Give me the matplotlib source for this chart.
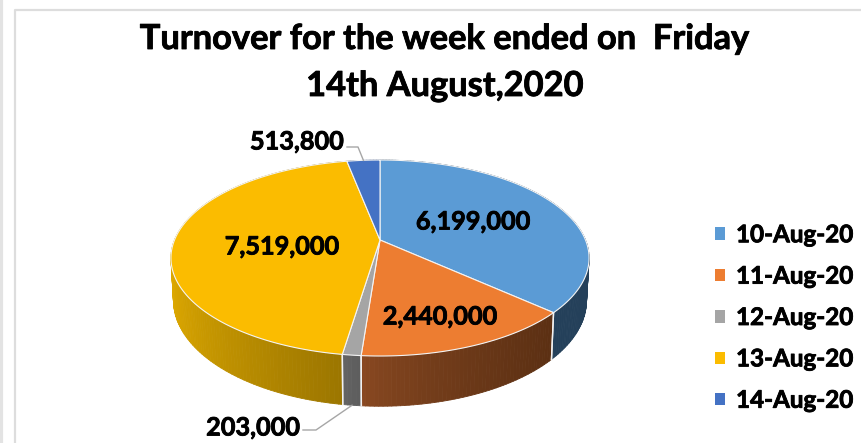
import numpy as np
import matplotlib
matplotlib.use("Agg")
import matplotlib.pyplot as plt
import matplotlib.patheffects as pe
from matplotlib.collections import PolyCollection
from matplotlib.colors import to_rgb
from matplotlib.patches import Patch

dates = ["10-Aug-20", "11-Aug-20", "12-Aug-20", "13-Aug-20", "14-Aug-20"]
turnover = [6199000, 2440000, 203000, 7519000, 513800]
title_lines = ["Turnover for the week ended on  Friday", "14th August,2020"]

colors = ["#5B9BD5", "#ED7D31", "#A5A5A5", "#FBBC00", "#4472C4"]
wall_left = ["#24405A", "#8C4A22", "#666666", "#DDA800", "#2A4478"]
wall_right = ["#24405A", "#5C3013", "#5E5E5E", "#9C7600", "#2A4478"]
label_pos = [(473, 222), (440, 317), (253, 428), (282, 247), (297, 142)]

plt.rcParams["font.family"] = ["Lato", "DejaVu Sans"]
plt.rcParams["font.weight"] = "bold"

# pie geometry in pixels, with a little perspective
CX, CY = 380, 240
RX, RY = 205.5, 94.7
K = 0.1837
DEPTH = 41

# thickens the text a bit, the reference is heavier than Lato Bold
HEAVY = [pe.withStroke(linewidth=0.6, foreground="black")]


def project(theta, r=1.0, drop=0.0):
    u = r * np.sin(theta)
    v = r * np.cos(theta)
    w = 1 + K * v
    scale = 1 - 0.012 * (drop > 0)
    x = CX + scale * RX * u / w
    y = CY - RY * v / w + drop / w
    return x, y


def mix(c1, c2, t):
    c1, c2 = np.array(to_rgb(c1)), np.array(to_rgb(c2))
    return tuple(c1 + (c2 - c1) * t)


def draw_wall(ax, start, end, left, right):
    angles = np.linspace(start, end, max(int(np.degrees(end - start)), 2) + 1)
    polys, shades = [], []
    xs = project(angles)[0]
    front = np.cos(angles) < 0.3
    lo, hi = (xs[front].min(), xs[front].max()) if front.any() else (0, 1)
    for a, b, x in zip(angles[:-1], angles[1:], xs):
        x1, y1 = project(a)
        x2, y2 = project(b)
        x3, y3 = project(b, drop=DEPTH)
        x4, y4 = project(a, drop=DEPTH)
        polys.append([(x1, y1), (x2, y2), (x3, y3), (x4, y4)])
        t = np.clip((x - lo) / max(hi - lo, 1), 0, 1) ** 0.7
        shades.append(mix(left, right, t))
    ax.add_collection(PolyCollection(polys, facecolors=shades, edgecolors=shades, linewidths=0.6, zorder=2))
    # pale seams where the slices meet
    for a in (start, end):
        if np.cos(a) < 0:
            x1, y1 = project(a)
            x2, y2 = project(a, drop=DEPTH)
            ax.plot([x1, x2], [y1, y2], color="#F2F2F2", lw=1, zorder=3)


def main():
    fig = plt.figure(figsize=(8.61, 4.43), dpi=100)
    ax = fig.add_axes([0, 0, 1, 1])
    ax.set_xlim(0, 861)
    ax.set_ylim(443, 0)
    ax.axis("off")

    # frame of the pasted chart
    ax.plot([0.5, 0.5], [0, 443], color="#E3E3E3", lw=3, zorder=1)
    ax.plot([14.5, 14.5, 861], [443, 9.5, 9.5], color="#DDDDDD", lw=1.6, zorder=1)

    fractions = np.array(turnover) / np.sum(turnover)
    edges = np.concatenate([[0], np.cumsum(fractions)]) * 2 * np.pi

    for i in range(len(turnover)):
        draw_wall(ax, edges[i], edges[i + 1], wall_left[i], wall_right[i])

    for i in range(len(turnover)):
        angles = np.linspace(edges[i], edges[i + 1], 200)
        x, y = project(angles)
        x = np.concatenate([[CX], x])
        y = np.concatenate([[CY], y])
        ax.fill(x, y, facecolor=colors[i], edgecolor="#F4F4F4", lw=0.8, zorder=4)

    for value, pos in zip(turnover, label_pos):
        ax.text(pos[0], pos[1], f"{value:,}", ha="center", va="center", fontsize=18.2, color="black",
                zorder=6, path_effects=HEAVY)

    # leader lines for the two small slices
    mid_blue = (edges[4] + edges[5]) / 2
    mid_gray = (edges[2] + edges[3]) / 2
    bx, by = project(mid_blue)
    gx, gy = project(mid_gray, drop=DEPTH)
    ax.plot([347, 358, bx], [147, 147, by], color="#A6A6A6", lw=1, zorder=5)
    ax.plot([303, 316, gx], [430, 430, gy], color="#A6A6A6", lw=1, zorder=5)

    ax.text(445, 39, title_lines[0], ha="center", va="center", fontsize=24.8, color="black", path_effects=HEAVY)
    ax.text(445, 86, title_lines[1], ha="center", va="center", fontsize=24.8, color="black", path_effects=HEAVY)

    handles = [Patch(facecolor=c, edgecolor="none") for c in colors]
    leg = ax.legend(handles, dates, loc="center left", bbox_to_anchor=(715 / 861, 1 - 317.5 / 443),
                    frameon=False, fontsize=17.4, handlelength=0.41, handleheight=0.41,
                    handletextpad=0.46, labelspacing=0.76, borderpad=0, borderaxespad=0)
    for t in leg.get_texts():
        t.set_path_effects(HEAVY)

    fig.savefig("out.png", dpi=100, facecolor="white")


if __name__ == "__main__":
    main()
